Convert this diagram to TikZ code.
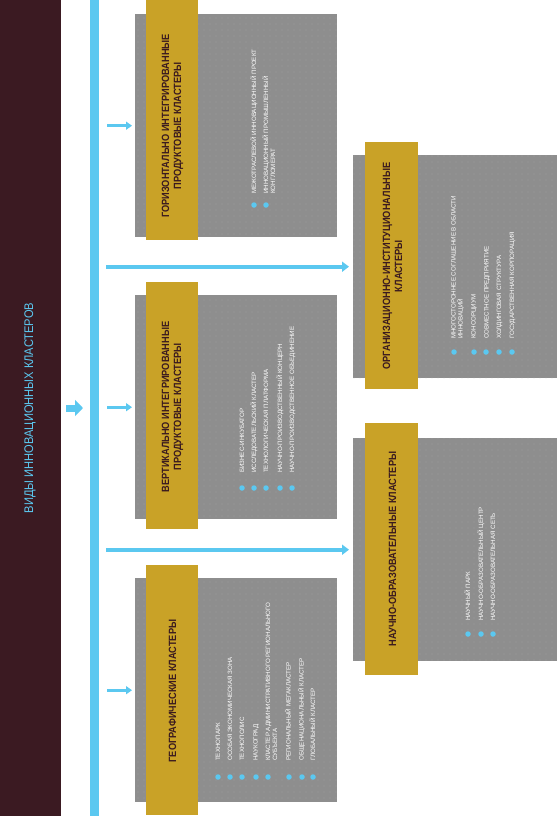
\documentclass[tikz,border=0pt]{standalone}
\usepackage{fontspec}
\setmainfont{Liberation Sans}
\newfontfamily\headfont[FakeStretch=0.88]{Liberation Sans}
\newfontfamily\titlefont[FakeStretch=0.89]{Liberation Sans}
\usetikzlibrary{arrows.meta,patterns.meta}
\definecolor{maroon}{HTML}{3B1A22}
\definecolor{skyb}{HTML}{5BC8F0}
\definecolor{greybox}{HTML}{8E8E8E}
\definecolor{greydot}{HTML}{B8B8B8}
\definecolor{goldbar}{HTML}{C9A227}
\definecolor{headtxt}{HTML}{3A1A1F}
\begin{document}
\begin{tikzpicture}[x=1pt,y=-1pt,
  panel/.style={draw=none,fill=greybox,inner sep=0pt,
    postaction={pattern={Dots[distance=6pt,radius=0.45pt]},pattern color=greydot}},
  goldstrip/.style={draw=none,fill=goldbar,inner sep=0pt},
  headtext/.style={rotate=90,align=center,text=headtxt,inner sep=0pt,
    font=\headfont\bfseries\fontsize{10.5}{12}\selectfont},
  itm/.style={rotate=90,anchor=base west,inner sep=0pt,text=white,align=left,
    font=\fontsize{6.2}{6.8}\selectfont},
  bul/.style={circle,fill=skyb,draw=none,minimum size=5.5pt,inner sep=0pt},
  arr/.style={draw=skyb,line width=3pt,-{Triangle[length=6pt,width=8pt]}},
  longarr/.style={draw=skyb,line width=4pt,-{Triangle[length=7pt,width=10pt]}}
]
\useasboundingbox (0,0) rectangle (557,816);
\fill[white] (0,0) rectangle (557,816);

% title bar and spine
\node[fill=maroon,inner sep=0pt,minimum width=61pt,minimum height=816pt,anchor=north west] (title) at (0,0) {};
\node[rotate=90,text=skyb,font=\titlefont\fontsize{12.5}{14}\selectfont,inner sep=0pt] (titletxt) at (30,408) {ВИДЫ ИННОВАЦИОННЫХ КЛАСТЕРОВ};
\node[fill=skyb,inner sep=0pt,minimum width=9pt,minimum height=816pt,anchor=north west] (spine) at (90,0) {};

% panels (left column)
\node[panel,minimum width=202pt,minimum height=223pt,anchor=north west] (b1) at (135,14) {};
\node[goldstrip,minimum width=52pt,minimum height=240pt,anchor=north west] (g1) at (146,0) {};
\node[panel,minimum width=202pt,minimum height=224pt,anchor=north west] (b2) at (135,295) {};
\node[goldstrip,minimum width=52pt,minimum height=247pt,anchor=north west] (g2) at (146,282) {};
\node[panel,minimum width=202pt,minimum height=224pt,anchor=north west] (b3) at (135,578) {};
\node[goldstrip,minimum width=52pt,minimum height=250pt,anchor=north west] (g3) at (146,565) {};
% panels (right column)
\node[panel,minimum width=204pt,minimum height=223pt,anchor=north west] (b4) at (353,155) {};
\node[goldstrip,minimum width=53pt,minimum height=247pt,anchor=north west] (g4) at (365,142) {};
\node[panel,minimum width=204pt,minimum height=223pt,anchor=north west] (b5) at (353,438) {};
\node[goldstrip,minimum width=53pt,minimum height=252pt,anchor=north west] (g5) at (365,423) {};

% headers
\node[headtext] (h1) at (172.5,126) {ГОРИЗОНТАЛЬНО ИНТЕГРИРОВАННЫЕ\\ПРОДУКТОВЫЕ КЛАСТЕРЫ};
\node[headtext] (h2) at (172.5,407) {ВЕРТИКАЛЬНО ИНТЕГРИРОВАННЫЕ\\ПРОДУКТОВЫЕ КЛАСТЕРЫ};
\node[headtext] (h3) at (172.5,691) {ГЕОГРАФИЧЕСКИЕ КЛАСТЕРЫ};
\node[headtext] (h4) at (392.5,266) {ОРГАНИЗАЦИОННО-ИНСТИТУЦИОНАЛЬНЫЕ\\КЛАСТЕРЫ};
\node[headtext] (h5) at (392.5,549) {НАУЧНО-ОБРАЗОВАТЕЛЬНЫЕ КЛАСТЕРЫ};

% items box 1
\node[itm] (t11) at (256.2,194) {МЕЖОТРАСЛЕВОЙ ИННОВАЦИОННЫЙ ПРОЕКТ};
\node[itm] (t12) at (275,194) {ИННОВАЦИОННЫЙ ПРОМЫШЛЕННЫЙ\\КОНГЛОМЕРАТ};
\node[bul] (d11) at (254,205) {};
\node[bul] (d12) at (266,205) {};

% items box 2
\node[itm] (t21) at (244.2,473) {БИЗНЕС-ИНКУБАТОР};
\node[itm] (t22) at (256.2,473) {ИССЛЕДОВАТЕЛЬСКИЙ КЛАСТЕР};
\node[itm] (t23) at (268.2,473) {ТЕХНОЛОГИЧЕСКАЯ ПЛАТФОРМА};
\node[itm] (t24) at (282.2,473) {НАУЧНО-ПРОИЗВОДСТВЕННЫЙ КОНЦЕРН};
\node[itm] (t25) at (294.2,473) {НАУЧНО-ПРОИЗВОДСТВЕННОЕ ОБЪЕДИНЕНИЕ};
\node[bul] (d21) at (242,488) {};
\node[bul] (d22) at (254,488) {};
\node[bul] (d23) at (266,488) {};
\node[bul] (d24) at (280,488) {};
\node[bul] (d25) at (292,488) {};

% items box 3
\node[itm] (t31) at (220.2,761) {ТЕХНОПАРК};
\node[itm] (t32) at (232.2,761) {ОСОБАЯ ЭКОНОМИЧЕСКАЯ ЗОНА};
\node[itm] (t33) at (244.2,761) {ТЕХНОПОЛИС};
\node[itm] (t34) at (257.7,761) {НАУКОГРАД};
\node[itm] (t35) at (277,761) {КЛАСТЕР АДМИНИСТРАТИВНОГО РЕГИОНАЛЬНОГО\\СУБЪЕКТА};
\node[itm] (t36) at (290.7,761) {РЕГИОНАЛЬНЫЙ МЕГАКЛАСТЕР};
\node[itm] (t37) at (303.7,761) {ОБЩЕНАЦИОНАЛЬНЫЙ КЛАСТЕР};
\node[itm] (t38) at (315.2,761) {ГЛОБАЛЬНЫЙ КЛАСТЕР};
\node[bul] (d31) at (218,777) {};
\node[bul] (d32) at (230,777) {};
\node[bul] (d33) at (242,777) {};
\node[bul] (d34) at (256,777) {};
\node[bul] (d35) at (268,777) {};
\node[bul] (d36) at (289,777) {};
\node[bul] (d37) at (302,777) {};
\node[bul] (d38) at (313,777) {};

% items box 4
\node[itm] (t41) at (462.5,339) {МНОГОСТОРОННЕЕ СОГЛАШЕНИЕ В ОБЛАСТИ\\ИННОВАЦИЙ};
\node[itm] (t42) at (475.7,339) {КОНСОРЦИУМ};
\node[itm] (t43) at (488.7,339) {СОВМЕСТНОЕ ПРЕДПРИЯТИЕ};
\node[itm] (t44) at (501.2,339) {ХОЛДИНГОВАЯ СТРУКТУРА};
\node[itm] (t45) at (514.2,339) {ГОСУДАРСТВЕННАЯ КОРПОРАЦИЯ};
\node[bul] (d41) at (454,352) {};
\node[bul] (d42) at (474,352) {};
\node[bul] (d43) at (486,352) {};
\node[bul] (d44) at (499,352) {};
\node[bul] (d45) at (512,352) {};

% items box 5
\node[itm] (t51) at (470.2,621) {НАУЧНЫЙ ПАРК};
\node[itm] (t52) at (483.2,621) {НАУЧНО-ОБРАЗОВАТЕЛЬНЫЙ ЦЕНТР};
\node[itm] (t53) at (495.2,621) {НАУЧНО-ОБРАЗОВАТЕЛЬНАЯ СЕТЬ};
\node[bul] (d51) at (468,634) {};
\node[bul] (d52) at (481,634) {};
\node[bul] (d53) at (493,634) {};

% connectors
\draw[draw=skyb,line width=7pt,-{Triangle[length=8pt,width=16pt]},shorten <=5pt,shorten >=7pt]
  (title.east |- titletxt) -- (spine.west |- titletxt);
\draw[arr,shorten <=8pt,shorten >=3pt] (spine.east |- b1.west) -- (b1.west);
\draw[arr,shorten <=8pt,shorten >=3pt] (spine.east |- b2.west) -- (b2.west);
\draw[arr,shorten <=8pt,shorten >=3pt] (spine.east |- b3.west) -- (b3.west);
\draw[longarr,shorten <=7pt,shorten >=4pt] (spine.east |- b4.west) -- (b4.west);
\draw[longarr,shorten <=7pt,shorten >=4pt] (spine.east |- b5.west) -- (b5.west);
\end{tikzpicture}
\end{document}
